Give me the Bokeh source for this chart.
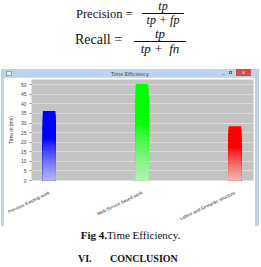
from bokeh.plotting import figure
from bokeh.models import Div, Spacer, Range1d, FixedTicker
from bokeh.layouts import column, row
from bokeh.embed import file_html
from bokeh.resources import INLINE

# ---- data ----
categories = ["Previous Existing work", "Web Service based work", "Lattice and Semantic structure"]
values = [36.3, 50.4, 28.3]
bar_colors = [(0, 0, 255), (0, 255, 0), (255, 0, 0)]
y_ticks = [0, 5, 10, 15, 20, 25, 30, 35, 40, 45, 50]
chart_title = "Time Efficiency"
y_label = "Time in (ms)"

WIN_BLUE = "#bcd3ec"

# ---- formulas ----
formula_html = """
<div style="position:relative;width:261px;height:67px;font-family:'Liberation Serif',serif;color:#111;background:white;">
  <div style="position:absolute;left:76px;top:7px;font-size:12.5px;line-height:14px;white-space:nowrap;">Precision =</div>
  <div style="position:absolute;left:142px;top:0px;width:42px;text-align:center;font-size:12px;font-style:italic;">
    <div style="line-height:13px;height:13px;">tp</div>
    <div style="border-top:1px solid #111;line-height:12px;white-space:nowrap;">tp + fp</div>
  </div>
  <div style="position:absolute;left:75px;top:32px;font-size:14px;line-height:15px;white-space:nowrap;">Recall =</div>
  <div style="position:absolute;left:134px;top:27px;width:52px;text-align:center;font-size:13px;font-style:italic;">
    <div style="line-height:14px;height:14px;">tp</div>
    <div style="border-top:1px solid #111;line-height:13px;white-space:nowrap;">tp + &nbsp;fn</div>
  </div>
</div>
"""
formulas = Div(text=formula_html, width=261, height=67, margin=(0, 0, 0, 0))

# ---- window chrome ----
titlebar_html = f"""
<div style="position:relative;width:258px;height:10px;background:{WIN_BLUE};font-family:'DejaVu Sans',sans-serif;">
  <div style="position:absolute;left:5px;top:2px;width:6px;height:5px;background:#e8eef6;border:1px solid #8aa;"></div>
  <div style="position:absolute;left:0;width:258px;top:1px;text-align:center;font-size:5px;line-height:8px;color:#333;">{chart_title}</div>
  <div style="position:absolute;left:221px;top:1px;font-size:6px;line-height:7px;color:#555;">&ndash;</div>
  <div style="position:absolute;left:228px;top:2px;width:3px;height:3px;border:1px solid #666;"></div>
  <div style="position:absolute;left:235px;top:0px;width:15px;height:7px;background:#c9504b;color:white;font-size:5px;line-height:7px;text-align:center;">x</div>
</div>
"""
titlebar = Div(text=titlebar_html, width=258, height=10, margin=(0, 0, 0, 0))
bottom_bar = Div(text=f'<div style="width:258px;height:3px;background:{WIN_BLUE};"></div>',
                 width=258, height=3, margin=(0, 0, 0, 0))
left_bar = Div(text=f'<div style="width:3px;height:149px;background:{WIN_BLUE};"></div>',
               width=3, height=149, margin=(0, 0, 0, 0))
right_bar = Div(text=f'<div style="width:4px;height:149px;background:{WIN_BLUE};"></div>',
                width=4, height=149, margin=(0, 0, 0, 0))

# ---- chart ----
xs = list(range(len(categories)))
p = figure(width=251, height=149, output_backend="svg", toolbar_location=None,
           x_range=Range1d(-0.19, 2.2), y_range=Range1d(0, 52.7),
           min_border_left=22, min_border_right=2, min_border_top=2, min_border_bottom=28)
p.background_fill_color = "#c3c3c3"
p.border_fill_color = "white"
p.outline_line_color = None

p.xgrid.grid_line_color = None
p.ygrid.grid_line_color = "#dcdcdc"
p.ygrid.grid_line_width = 1

# gradient bars: nested bars from tallest (base colour) to shortest (lightest)
N = 40
bx, bt, bc = [], [], []
for x, v, col in zip(xs, values, bar_colors):
    for i in range(N, 0, -1):
        f1 = i / N
        fm = (i - 0.5) / N
        w = max(0.0, min(1.0, (0.6 - fm) / 0.6)) ** 0.8 * 0.78
        c = tuple(int(round(ch * (1 - w) + 236 * w)) for ch in col)
        bx.append(x)
        bt.append(v * f1)
        bc.append("#%02x%02x%02x" % c)
p.vbar(x=bx, bottom=0, top=bt, width=0.135, fill_color=bc, line_color=None)

p.yaxis.ticker = FixedTicker(ticks=y_ticks)
p.yaxis.axis_line_color = None
p.yaxis.major_tick_line_color = "#888"
p.yaxis.major_tick_out = 2
p.yaxis.major_tick_in = 0
p.yaxis.minor_tick_line_color = None
p.yaxis.major_label_text_font_size = "5px"
p.yaxis.major_label_text_color = "#444"
p.yaxis.major_label_standoff = 3
p.yaxis.axis_label = y_label
p.yaxis.axis_label_text_font_size = "5px"
p.yaxis.axis_label_text_font_style = "normal"
p.yaxis.axis_label_text_color = "#333"
p.yaxis.axis_label_standoff = 4

p.xaxis.ticker = FixedTicker(ticks=xs)
p.xaxis.major_label_overrides = {x: c for x, c in zip(xs, categories)}
p.xaxis.major_label_orientation = 0.45
p.xaxis.major_label_text_font_size = "4.5px"
p.xaxis.major_label_text_color = "#222"
p.xaxis.axis_line_color = None
p.xaxis.major_tick_line_color = None
p.xaxis.minor_tick_line_color = None
p.xaxis.major_label_standoff = 6

# ---- caption ----
caption_html = """
<div style="position:relative;width:261px;height:38px;font-family:'Liberation Serif',serif;color:#111;background:white;">
  <div style="position:absolute;left:0;width:261px;top:0px;text-align:center;font-size:11px;line-height:13px;"><b>Fig 4.</b>Time Efficiency.</div>
  <div style="position:absolute;left:78px;top:24px;font-size:10px;line-height:12px;font-weight:bold;white-space:nowrap;">VI.</div>
  <div style="position:absolute;left:110px;top:24px;font-size:10px;line-height:12px;font-weight:bold;white-space:nowrap;">CONCLUSION</div>
</div>
"""
caption = Div(text=caption_html, width=261, height=38, margin=(0, 0, 0, 0))

layout = column(
    formulas,
    row(Spacer(width=1, height=10), titlebar, spacing=0),
    row(Spacer(width=1, height=149), left_bar, p, right_bar, spacing=0),
    row(Spacer(width=1, height=3), bottom_bar, spacing=0),
    caption,
    spacing=0,
)

open("out.html", "w").write(file_html(layout, INLINE))
